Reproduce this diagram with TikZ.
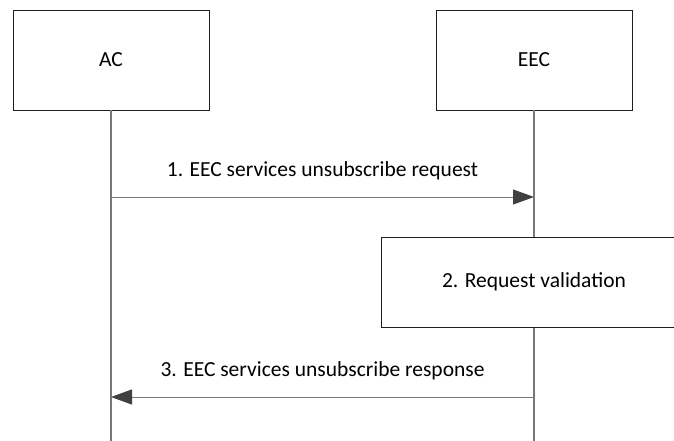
\documentclass[tikz,border=0pt]{standalone}
\usepackage{fontspec}
\setmainfont{Carlito}
\usetikzlibrary{positioning,arrows.meta,calc}
\definecolor{seqLine}{RGB}{120,120,120}
\definecolor{seqHead}{RGB}{64,64,64}
\definecolor{seqBorder}{RGB}{30,30,30}

\begin{document}
\begin{tikzpicture}[
    x=1pt, y=-1pt,
    entity/.style={rectangle, draw=seqBorder, fill=white, minimum width=196pt, minimum height=100pt, inner sep=0pt, font=\fontsize{21.5}{26}\selectfont},
    action/.style={rectangle, draw=seqBorder, fill=white, minimum width=305pt, minimum height=90pt, inner sep=0pt, font=\fontsize{21.5}{26}\selectfont},
    lifeline/.style={draw=seqLine, line width=1.2pt},
    msg/.style={draw=seqLine, line width=0.9pt, -{Triangle[length=21pt, width=15pt, fill=seqHead, color=seqHead]}},
    msg note/.style={midway, yshift=26pt, font=\fontsize{21.5}{26}\selectfont}
]
  \useasboundingbox (0,0) rectangle (674,441);

  \node[entity] (ac) at (111,60) {AC};
  \node[entity] (eec) at (534,60) {EEC};

  \coordinate (acEnd) at (111,441);
  \coordinate (eecEnd) at (534,441);
  \draw[lifeline] (ac) -- (acEnd);
  \draw[lifeline] (eec) -- (eecEnd);

  % messages between the lifelines
  \coordinate (req1) at (ac |- 0,197);
  \coordinate (req2) at (eec |- 0,197);
  \draw[msg] (req1) -- node[msg note] {1. EEC services unsubscribe request} (req2);

  \node[action] (valid) at (534,282) {2. Request validation};

  \coordinate (resp1) at (eec |- 0,397);
  \coordinate (resp2) at (ac |- 0,397);
  \draw[msg] (resp1) -- node[msg note] {3. EEC services unsubscribe response} (resp2);
\end{tikzpicture}
\end{document}
